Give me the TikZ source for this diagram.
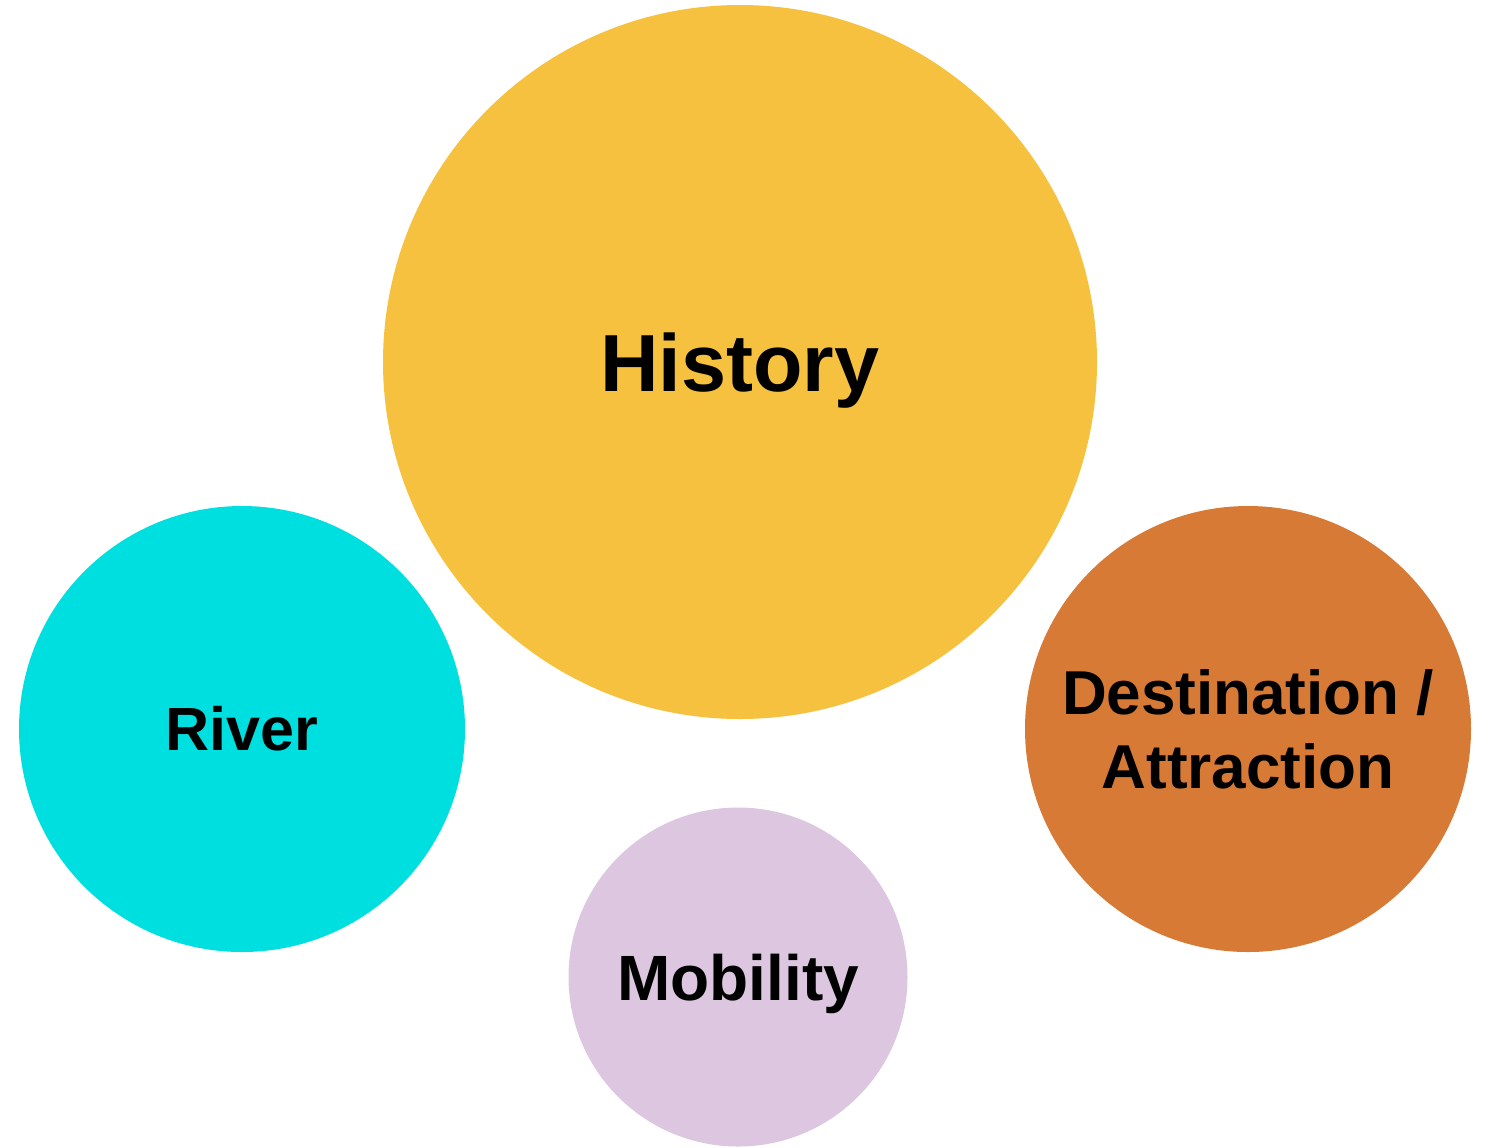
\documentclass[tikz,border=0pt]{standalone}
\usepackage{fontspec}
\setmainfont{Liberation Sans}
\definecolor{histc}{HTML}{F6C13E}
\definecolor{riverc}{HTML}{00DFDF}
\definecolor{destc}{HTML}{D67A36}
\definecolor{mobc}{HTML}{DCC6E0}
\tikzset{
  bubble/.style={circle, inner sep=0pt, draw=none, font=\bfseries, text=black, align=center}
}
\begin{document}
\begin{tikzpicture}[x=0.5pt,y=-0.5pt]
\useasboundingbox (0,0) rectangle (1486,1147);
\node[bubble, fill=histc, minimum size=714*0.5pt, text depth=0pt, font=\bfseries\fontsize{40.5}{48}\selectfont] (history) at (740,362) {History};
\node[bubble, fill=riverc, minimum size=446*0.5pt, font=\bfseries\fontsize{30.5}{37}\selectfont] (river) at (242,729) {River};
\node[bubble, fill=destc, minimum size=446*0.5pt, font=\bfseries\fontsize{31}{37}\selectfont] (dest) at (1248,729) {Destination /\\Attraction};
\node[bubble, fill=mobc, minimum size=339*0.5pt, text depth=0pt, font=\bfseries\fontsize{32}{37}\selectfont] (mob) at (738,977) {Mobility};
\end{tikzpicture}
\end{document}
